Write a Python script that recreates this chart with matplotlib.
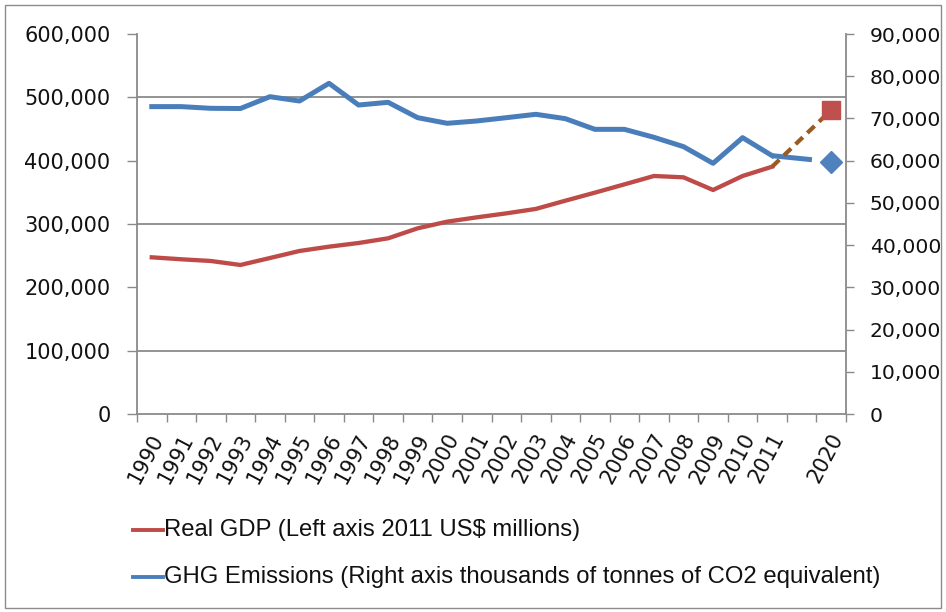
import matplotlib
matplotlib.use("Agg")
import matplotlib.pyplot as plt
from matplotlib.lines import Line2D
from matplotlib.patches import Rectangle
from matplotlib.ticker import FuncFormatter, MultipleLocator, FixedLocator
from matplotlib.transforms import ScaledTranslation
import numpy as np

# Category axis: annual values 1990-2011, an empty slot, then the 2020 projection
categories = ["1990", "1991", "1992", "1993", "1994", "1995", "1996", "1997",
              "1998", "1999", "2000", "2001", "2002", "2003", "2004", "2005",
              "2006", "2007", "2008", "2009", "2010", "2011", "", "2020"]

# Real GDP, 2011 US$ millions (left axis)
gdp = [247400, 244300, 241600, 235300, 246300, 257400, 264200, 270000,
       277400, 293200, 303700, 310500, 316800, 323800, 336800, 349500,
       362600, 375800, 373700, 353700, 375800, 390500]
gdp_2020 = 480000

# GHG emissions, thousands of tonnes CO2 equivalent (right axis)
ghg = [72800, 72800, 72400, 72350, 75150, 74130, 78320, 73180,
       73820, 70180, 68850, 69400, 70180, 70980, 69950, 67420,
       67420, 65530, 63320, 59370, 65450, 61180]
ghg_2020 = 59760

legend_labels = ["Real GDP (Left axis 2011 US$ millions)",
                 "GHG Emissions (Right axis thousands of tonnes of CO2 equivalent)"]

RED = "#BE4B48"
BLUE = "#4A7EBB"
BROWN = "#9A5A22"
GRID = "#8A8A8A"

W, H = 946, 612
fig = plt.figure(figsize=(W / 100, H / 100), dpi=100)
fig.patch.set_facecolor("white")

# outer chart frame
fig.add_artist(Rectangle((5 / W, 4 / H), (W - 10) / W, (H - 9) / H,
                         transform=fig.transFigure, fill=False,
                         edgecolor="#8C8C8C", linewidth=1.0))

x0, x1, ytop, ybot = 137, 846, 34, 414
rect = [x0 / W, 1 - ybot / H, (x1 - x0) / W, (ybot - ytop) / H]

# emissions axis underneath, GDP axis on top
ax_ghg = fig.add_axes(rect)
ax_gdp = ax_ghg.twinx()
ax_ghg.yaxis.tick_right()
ax_ghg.yaxis.set_label_position("right")
ax_gdp.yaxis.tick_left()
ax_gdp.yaxis.set_label_position("left")

n = len(categories)
x_hist = np.arange(len(gdp))
x_last = len(gdp) - 1
x_2020 = categories.index("2020")

ax_ghg.set_xlim(-0.5, n - 0.5)
ax_ghg.set_ylim(0, 90000)
ax_gdp.set_ylim(0, 600000)

# gridlines every 100,000 of GDP (= 15,000 on the emissions scale)
ax_ghg.yaxis.set_major_locator(MultipleLocator(10000))
ax_ghg.yaxis.set_minor_locator(MultipleLocator(15000))
ax_ghg.grid(which="minor", axis="y", color=GRID, linewidth=1.3)
ax_ghg.set_axisbelow(True)
ax_gdp.yaxis.set_major_locator(MultipleLocator(100000))

fmt = FuncFormatter(lambda v, p: f"{v:,.0f}")
ax_ghg.yaxis.set_major_formatter(fmt)
ax_gdp.yaxis.set_major_formatter(fmt)

ax_ghg.tick_params(axis="y", which="major", direction="out", length=6,
                   width=1.0, color=GRID, pad=11, labelsize=14.6)
ax_ghg.tick_params(axis="y", which="minor", length=0)
ax_gdp.tick_params(axis="y", direction="out", length=7, width=1.0,
                   color=GRID, pad=12, labelsize=15)

# category ticks sit between the years, labels at the centres
ax_ghg.set_xticks(np.arange(n))
ax_ghg.set_xticklabels(categories, rotation=62, ha="right", va="center",
                       rotation_mode="anchor", fontsize=15)
ax_ghg.xaxis.set_minor_locator(FixedLocator(np.arange(n + 1) - 0.5))
ax_ghg.tick_params(axis="x", which="major", length=0, pad=15)
ax_ghg.tick_params(axis="x", which="minor", length=6, width=1.0,
                   color=GRID, direction="out")
shift = ScaledTranslation(7 / 100, 0, fig.dpi_scale_trans)
for lab in ax_ghg.get_xticklabels():
    lab.set_transform(lab.get_transform() + shift)

for sp in ("left", "right", "bottom"):
    ax_ghg.spines[sp].set_color(GRID)
    ax_ghg.spines[sp].set_linewidth(1.3)
ax_ghg.spines["top"].set_visible(False)
for sp in ax_gdp.spines.values():
    sp.set_visible(False)

# emissions history and path to 2020
ax_ghg.plot(x_hist, ghg, color=BLUE, linewidth=3.6,
            solid_joinstyle="round", zorder=3)
ax_ghg.plot([x_last, x_2020], [ghg[-1], ghg_2020], color=BLUE,
            linewidth=3.6, dashes=(8, 2.4), zorder=3)
ax_ghg.plot([x_2020], [ghg_2020], marker="D", markersize=11,
            color="#4F81BD", linestyle="none", zorder=4)

# GDP history and projection to 2020
ax_gdp.plot(x_hist, gdp, color=RED, linewidth=3.1,
            solid_joinstyle="round", zorder=3)
ax_gdp.plot([x_last, x_2020], [gdp[-1], gdp_2020], color=BROWN,
            linewidth=3.0, dashes=(2.4, 1.5), zorder=4)
ax_gdp.plot([x_2020], [gdp_2020], marker="s", markersize=13,
            color="#C0504D", linestyle="none", zorder=5)

for lab in ax_ghg.get_yticklabels() + ax_gdp.get_yticklabels() + ax_ghg.get_xticklabels():
    lab.set_family("DejaVu Sans")
    lab.set_color("#111111")

# legend below the plot, sized so the longer entry spans its row
legend_family = ["Liberation Sans Narrow", "Liberation Sans", "DejaVu Sans"]
probe = fig.text(0, 0, legend_labels[1], fontsize=20, family=legend_family)
fig.canvas.draw()
pw = probe.get_window_extent().width
probe.remove()
leg_size = 20 * 716 / pw

rows_y = [530, 577]
colors = [RED, BLUE]
for lab, yy, c in zip(legend_labels, rows_y, colors):
    fig.add_artist(Line2D([133 / W, 163 / W], [1 - yy / H, 1 - yy / H],
                          transform=fig.transFigure, color=c, linewidth=2.8))
    fig.text(164 / W, 1 - yy / H, lab, fontsize=leg_size, family=legend_family,
             ha="left", va="center", color="#111111")

fig.savefig("out.png", dpi=100, facecolor="white")
